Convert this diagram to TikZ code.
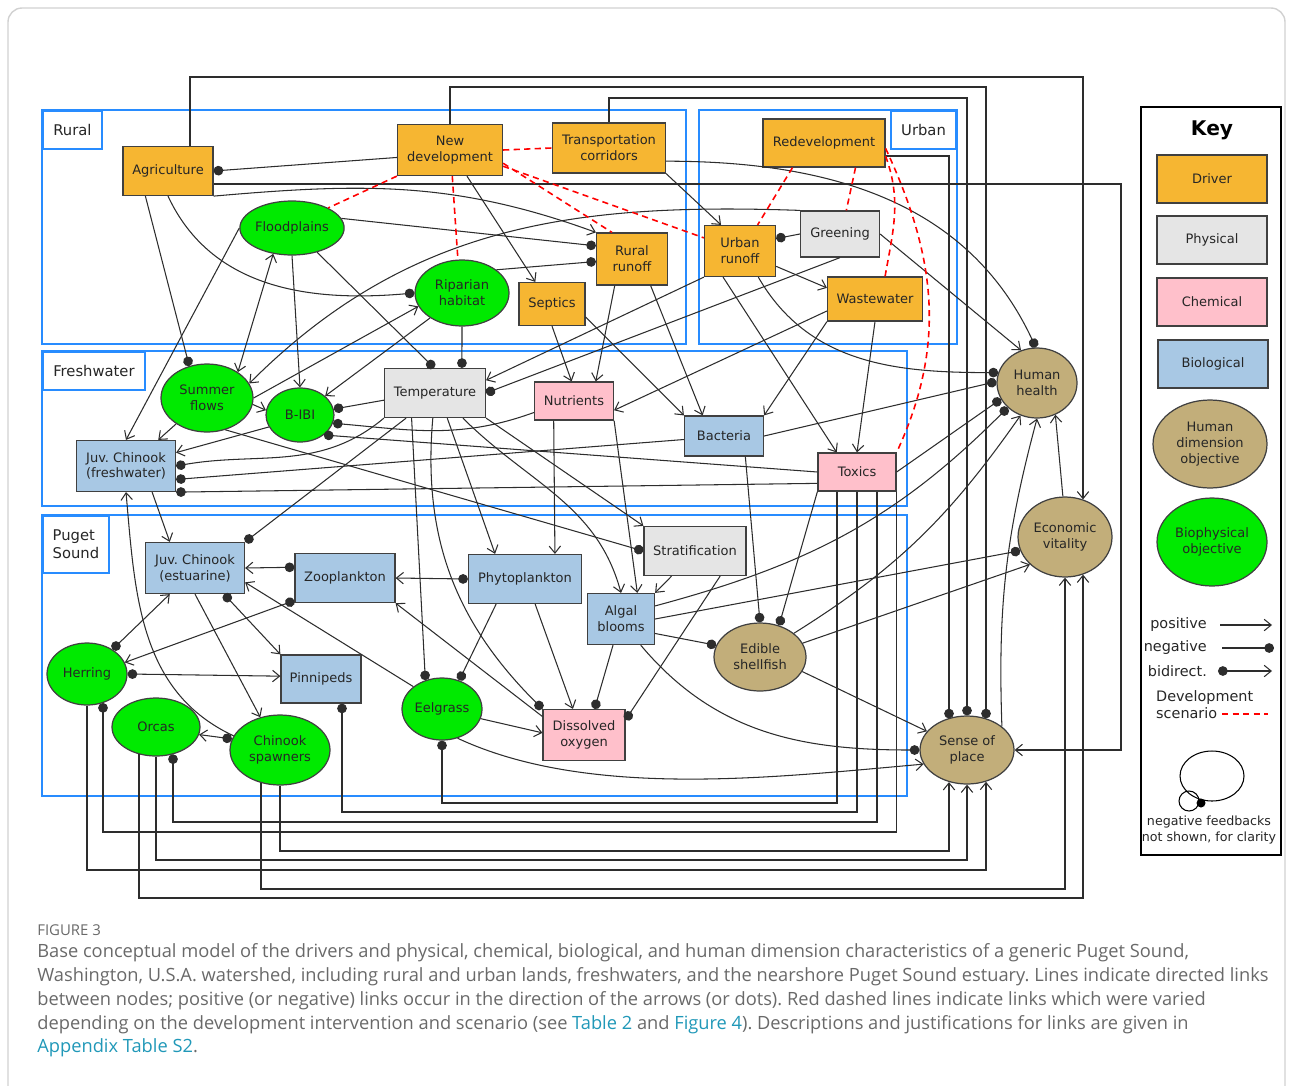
\documentclass[tikz,border=0pt]{standalone}
\usepackage{fontspec}
\setmainfont{DejaVu Sans}
\newfontfamily\capfont{Open Sans}
\usetikzlibrary{arrows.meta,shapes.geometric,calc}
\frenchspacing

\definecolor{drivercol}{RGB}{246,182,50}
\definecolor{physcol}{RGB}{229,229,229}
\definecolor{chemcol}{RGB}{255,192,203}
\definecolor{biocol}{RGB}{168,200,228}
\definecolor{humancol}{RGB}{194,174,122}
\definecolor{greencol}{RGB}{0,234,0}
\definecolor{zonecol}{RGB}{40,140,255}
\definecolor{linkcol}{RGB}{45,45,45}
\definecolor{capgray}{RGB}{105,105,105}
\definecolor{reflink}{RGB}{32,152,184}

\newcommand{\nodefont}{\fontsize{7.4}{9}\selectfont}

\begin{document}
\begin{tikzpicture}[x=0.02cm,y=0.02cm,
  every node/.style={font=\nodefont,text=black!85},
  cell/.style={rectangle,draw=black!75,line width=0.7pt,align=center,inner sep=1pt},
  driver/.style={cell,fill=drivercol},
  phys/.style={cell,fill=physcol},
  chem/.style={cell,fill=chemcol},
  bio/.style={cell,fill=biocol},
  oval/.style={ellipse,draw=black!75,line width=0.7pt,align=center,inner sep=0pt},
  human/.style={oval,fill=humancol},
  biophys/.style={oval,fill=greencol},
  zone/.style={draw=zonecol,line width=1.1pt},
  zonetag/.style={zone,fill=white,font=\fontsize{8.4}{10}\selectfont,align=left,inner sep=0pt},
  conn/.style={draw=linkcol,line width=0.6pt},
  posarr/.style={conn,-{Straight Barb[length=4pt,width=6.5pt]}},
  negdot/.style={conn,-{Circle[length=5.5pt]}},
  bidir/.style={conn,{Circle[length=5.5pt]}-{Straight Barb[length=4pt,width=6.5pt]}},
  twoway/.style={conn,{Straight Barb[length=4pt,width=6.5pt]}-{Straight Barb[length=4pt,width=6.5pt]}},
  devline/.style={draw=red,line width=0.9pt,dash pattern=on 3.5pt off 2.5pt},
]
\useasboundingbox (0,0) rectangle (1293,-1085);
\draw[black!18,line width=0.8pt,rounded corners=8pt] (8,-8) rectangle (1285,-1110);

% zones
\draw[zone] (42,-110) rectangle (686,-344);
\draw[zone] (699,-110) rectangle (957,-344);
\draw[zone] (42,-351) rectangle (907,-506);
\draw[zone] (42,-515) rectangle (907,-796);
\node at (42,-110) [zonetag,anchor=north west,minimum width=1.18cm,minimum height=0.76cm] (ruraltag) {Rural};
\node at (957,-110) [zonetag,anchor=north east,minimum width=1.3cm,minimum height=0.76cm] (urbantag) {Urban};
\node at (42,-351) [zonetag,anchor=north west,minimum width=2.04cm,minimum height=0.76cm] (freshtag) {Freshwater};
\node at (42,-515) [zonetag,anchor=north west,minimum width=1.32cm,minimum height=1.14cm] (pugettag) {Puget\\Sound};

% drivers and rural / urban nodes
\node at (168,-171) [driver,minimum width=1.8cm,minimum height=0.98cm] (agri) {Agriculture};
\node at (450,-150) [driver,minimum width=2.1cm,minimum height=1.02cm] (newdev) {New\\development};
\node at (609,-148) [driver,minimum width=2.26cm,minimum height=1.0cm] (trans) {Transportation\\corridors};
\node at (824,-143) [driver,minimum width=2.44cm,minimum height=0.96cm] (redev) {Redevelopment};
\node at (292,-228) [biophys,minimum width=2.08cm,minimum height=1.08cm] (flood) {Floodplains};
\node at (462,-293) [biophys,minimum width=1.88cm,minimum height=1.32cm] (ripar) {Riparian\\habitat};
\node at (632,-259) [driver,minimum width=1.42cm,minimum height=1.04cm] (rrun) {Rural\\runoff};
\node at (552,-304) [driver,minimum width=1.32cm,minimum height=0.86cm] (septics) {Septics};
\node at (740,-251) [driver,minimum width=1.42cm,minimum height=1.02cm] (urun) {Urban\\runoff};
\node at (840,-234) [phys,minimum width=1.58cm,minimum height=0.92cm] (green) {Greening};
\node at (875,-299) [driver,minimum width=1.9cm,minimum height=0.88cm] (waste) {Wastewater};

% freshwater
\node at (207,-398) [biophys,minimum width=1.84cm,minimum height=1.36cm] (summer) {Summer\\flows};
\node at (300,-415) [biophys,minimum width=1.36cm,minimum height=1.08cm] (bibi) {B-IBI};
\node at (435,-393) [phys,minimum width=2.02cm,minimum height=0.98cm] (temp) {Temperature};
\node at (574,-401) [chem,minimum width=1.58cm,minimum height=0.76cm] (nutr) {Nutrients};
\node at (724,-436) [bio,minimum width=1.58cm,minimum height=0.8cm] (bact) {Bacteria};
\node at (857,-472) [chem,minimum width=1.56cm,minimum height=0.76cm] (toxics) {Toxics};
\node at (126,-466) [bio,minimum width=1.98cm,minimum height=1.02cm] (jcf) {Juv. Chinook\\(freshwater)};

% puget sound
\node at (195,-568) [bio,minimum width=1.98cm,minimum height=1.02cm] (jce) {Juv. Chinook\\(estuarine)};
\node at (345,-578) [bio,minimum width=2.0cm,minimum height=0.98cm] (zoo) {Zooplankton};
\node at (525,-579) [bio,minimum width=2.26cm,minimum height=0.98cm] (phyto) {Phytoplankton};
\node at (695,-551) [phys,minimum width=2.04cm,minimum height=0.98cm] (strat) {Stratification};
\node at (621,-619) [bio,minimum width=1.34cm,minimum height=1.02cm] (algal) {Algal\\blooms};
\node at (760,-657) [human,minimum width=1.84cm,minimum height=1.36cm] (shell) {Edible\\shellfish};
\node at (87,-674) [biophys,minimum width=1.6cm,minimum height=1.24cm] (herring) {Herring};
\node at (321,-679) [bio,minimum width=1.6cm,minimum height=0.96cm] (pinni) {Pinnipeds};
\node at (442,-709) [biophys,minimum width=1.6cm,minimum height=1.24cm] (eel) {Eelgrass};
\node at (584,-735) [chem,minimum width=1.64cm,minimum height=1.02cm] (dox) {Dissolved\\oxygen};
\node at (156,-727) [biophys,minimum width=1.76cm,minimum height=1.16cm] (orcas) {Orcas};
\node at (280,-750) [biophys,minimum width=2.0cm,minimum height=1.4cm] (spawn) {Chinook\\spawners};

% human dimension
\node at (1037,-383) [human,minimum width=1.6cm,minimum height=1.4cm] (health) {Human\\health};
\node at (1065,-537) [human,minimum width=1.88cm,minimum height=1.6cm] (econ) {Economic\\vitality};
\node at (967,-750) [human,minimum width=1.88cm,minimum height=1.36cm] (sense) {Sense of\\place};

% long routed links
\draw[posarr] ($(agri.north)+(22,0)$) |- (1083,-77) -- ($(econ.north)+(18,-3)$);
\draw[negdot] (newdev.north) |- (986,-87) -- ($(sense.north)+(19,-3)$);
\draw[negdot] (trans.north) |- (967,-98) -- (sense.north);
\draw[negdot] ($(redev.east)+(0,-13)$) -| ($(sense.north)+(-18,-3)$);
\draw[posarr] ($(agri.east)+(0,-13)$) -| (1121,-750) -- (sense.east);
\draw[negdot] ($(toxics.south)+(-20,0)$) |- (442,-803) -- (eel.south);
\draw[negdot] (toxics.south) |- (342,-812) -- ($(pinni.south)+(21,0)$);
\draw[negdot] ($(toxics.south)+(20,0)$) |- (173,-822) -- ($(orcas.south)+(17,2.3)$);
\draw[negdot] (toxics.south east) |- (103,-832) -- ($(herring.south)+(16,2.6)$);
\draw[posarr] (spawn.south) |- (949,-851) -- ($(sense.south)+(-18,2.5)$);
\draw[posarr] (orcas.south) |- (967,-860) -- (sense.south);
\draw[posarr] (herring.south) |- (986,-870) -- ($(sense.south)+(19,2.8)$);
\draw[posarr] ($(spawn.south)+(-19,2.6)$) |- (1065,-889) -- (econ.south);
\draw[posarr] ($(orcas.south)+(-17,2.3)$) |- (1083,-898) -- ($(econ.south)+(18,3)$);

% rural and urban links
\draw[negdot] (newdev.188) -- (agri.east);
\draw[posarr] (newdev.-57) -- (septics.127);
\draw[posarr] (agri.south east) to[out=5,in=160] (rrun.north west);
\draw[negdot] (flood.11) -- (rrun.160);
\draw[negdot] (ripar.34) -- (rrun.184);
\draw[negdot] (agri.south) to[out=-65,in=185] (ripar.west);
\draw[posarr] (trans.south east) -- (urun.126);
\draw[negdot] (trans.-13) to[out=0,in=115] (health.92);
\draw[posarr] (green.east) -- (health.116);
\draw[negdot] (green.west) -- (urun.19);
\draw[posarr] (green.north west) to[out=178,in=45] (summer.19);
\draw[posarr] (urun.-23) -- (waste.167);
\draw[posarr] (urun.-123) -- (toxics.136);
\draw[negdot] (urun.-55) to[out=-60,in=180] (health.165);
\draw[posarr] (urun.south west) -- (temp.14);
\draw[negdot] (green.south) -- (temp.east);
\draw[posarr] (waste.-166) -- (nutr.-13);
\draw[posarr] (waste.south west) -- (bact.north east);
\draw[posarr] (waste.south) -- (toxics.north);
\draw[posarr] (rrun.-55) -- (bact.136);
\draw[posarr] (septics.-21) -- (bact.north west);
\draw[posarr] (septics.south) -- (nutr.97);
\draw[posarr] (rrun.-123) -- (nutr.42);
\draw[negdot] (ripar.south) -- (temp.43);
\draw[negdot] (flood.-44) -- (temp.92);
\draw[posarr] (flood.west) -- (jcf.north);
\draw[negdot] (agri.-132) -- (summer.119);
\draw[twoway] (flood.-126) -- (summer.40);
\draw[posarr] (flood.south) -- (bibi.north);

% freshwater links
\draw[posarr] (summer.east) -- (ripar.-163);
\draw[posarr] (ripar.-142) -- (bibi.37);
\draw[posarr] (summer.-8) -- (bibi.172);
\draw[negdot] (temp.-172) -- (bibi.10);
\draw[negdot] (nutr.-164) to[out=200,in=-5] (bibi.-14);
\draw[negdot] (toxics.west) -- (bibi.-40);
\draw[posarr] (bibi.-159) -- (jcf.15);
\draw[posarr] (summer.-140) -- (jcf.39);
\draw[negdot] (temp.south west) to[out=-140,in=10] (jcf.east);
\draw[negdot] (bact.-175) -- (jcf.-15);
\draw[negdot] (toxics.-164) -- (jcf.south east);
\draw[posarr] (jcf.-45) -- (jce.134);
\draw[posarr] (spawn.163) to[out=155,in=-85] (jcf.south);
\draw[negdot] (summer.-60) -- (strat.west);
\draw[negdot] (temp.-139) -- (jce.north east);
\draw[negdot] (temp.-133) -- (eel.120);
\draw[negdot] (temp.-95) to[out=-95,in=135] (dox.north west);
\draw[posarr] (temp.-64) -- (phyto.140);
\draw[posarr] (temp.-42) to[out=-45,in=105] (algal.north);
\draw[posarr] (temp.south east) -- (strat.north west);
\draw[posarr] (nutr.-136) -- (phyto.40);
\draw[posarr] (nutr.south east) -- (algal.58);
\draw[negdot] (bact.-44) -- (shell.north);
\draw[negdot] (bact.east) -- (health.178);
\draw[negdot] (toxics.south west) -- (shell.59);
\draw[negdot] (toxics.east) -- (health.-156);

% puget sound links
\draw[posarr] (strat.-133) -- (algal.north east);
\draw[negdot] (strat.-45) -- (dox.20);
\draw[bidir] (zoo.168) -- (jce.east);
\draw[bidir] (phyto.west) -- (zoo.east);
\draw[bidir] (zoo.-156) -- (herring.17);
\draw[bidir] (herring.44) -- (jce.-134);
\draw[bidir] (jce.-42) -- (pinni.north west);
\draw[posarr] (jce.south) -- (spawn.121);
\draw[bidir] (herring.east) -- (pinni.176);
\draw[bidir] (spawn.167) -- (orcas.-10);
\draw[posarr] (eel.142) -- (jce.-16);
\draw[negdot] (phyto.-139) -- (eel.59);
\draw[posarr] (eel.-14) -- (dox.177);
\draw[posarr] (eel.-62) to[out=-25,in=185,looseness=0.8] (sense.-162);
\draw[posarr] (dox.156) -- (zoo.south east);
\draw[posarr] (phyto.-68) -- (dox.113);
\draw[negdot] (algal.-107) -- (dox.68);
\draw[negdot] (algal.-23) -- (shell.165);
\draw[negdot] (algal.-53) to[out=-50,in=180] (sense.west);
\draw[negdot] (algal.21) to[out=15,in=-135] (health.-140);
\draw[negdot] (algal.east) -- (econ.-163);
\draw[posarr] (shell.35) to[out=32,in=-125] (health.-117);
\draw[posarr] (shell.18) -- (econ.-142);
\draw[posarr] (shell.-19) -- (sense.155);
\draw[posarr] (sense.34) to[out=92,in=-105] (health.south);
\draw[posarr] (econ.93) -- (health.-60);

% development scenario links
\draw[devline] (newdev.south west) -- (flood.29);
\draw[devline] (newdev.-85) -- (ripar.97);
\draw[devline] (newdev.east) -- (trans.west);
\draw[devline] (newdev.-14) -- (rrun.127);
\draw[devline] (newdev.-17) -- (urun.160);
\draw[devline] (redev.-142) -- (urun.56);
\draw[devline] (redev.-38) -- (green.75);
\draw[devline] (redev.-12) to[out=-70,in=80] (waste.66);
\draw[devline] (redev.-5) to[out=-65,in=65] (toxics.north east);

% key
\draw[line width=1.3pt] (1141,-107) rectangle (1281,-855);
\node at (1212,-130) [font=\fontsize{11.5}{13}\selectfont\bfseries,text=black] (keytitle) {Key};
\node at (1212,-179) [driver,minimum width=2.2cm,minimum height=0.96cm] (keydrv) {Driver};
\node at (1212,-240) [phys,minimum width=2.2cm,minimum height=0.96cm] (keyphys) {Physical};
\node at (1212,-302) [chem,minimum width=2.2cm,minimum height=0.96cm] (keychem) {Chemical};
\node at (1213,-364) [bio,minimum width=2.2cm,minimum height=0.96cm] (keybio) {Biological};
\node at (1210,-444) [human,minimum width=2.28cm,minimum height=1.76cm] (keyhum) {Human\\dimension\\objective};
\node at (1212,-542) [biophys,minimum width=2.2cm,minimum height=1.76cm] (keybioph) {Biophysical\\objective};
\node at (1213,-625) [anchor=east,font=\fontsize{8.2}{10}\selectfont] (keypos) {positive};
\node at (1213,-648) [anchor=east,font=\fontsize{8.2}{10}\selectfont] (keyneg) {negative};
\node at (1213,-671) [anchor=east,font=\fontsize{8.2}{10}\selectfont] (keybi) {bidirect.};
\node at (1150,-705) [anchor=west,align=left,font=\fontsize{8.2}{9.6}\selectfont] (keydev) {Development\\scenario};
\coordinate (pa) at (1220,-625); \coordinate (pb) at (1272,-625);
\coordinate (na) at (1222,-648); \coordinate (nb) at (1274,-648);
\coordinate (ba) at (1218,-671); \coordinate (bb) at (1272,-671);
\coordinate (da) at (1222,-714); \coordinate (db) at (1268,-714);
\draw[posarr] (pa) -- (pb);
\draw[negdot] (na) -- (nb);
\draw[bidir] (ba) -- (bb);
\draw[devline] (da) -- (db);
\draw[line width=0.6pt] (1212,-776) ellipse [x radius=0.64cm, y radius=0.5cm];
\draw[line width=0.6pt] (1189,-801) circle [radius=0.2cm];
\fill (1201,-803) circle [radius=0.09cm];
\node at (1209,-830) [align=center,font=\fontsize{7.2}{8.6}\selectfont] (keynote) {negative feedbacks\\not shown, for clarity};

% caption
\node at (37,-930) [anchor=west,inner sep=0pt,font=\capfont\fontsize{8.5}{10}\selectfont,text=capgray] (figlabel) {FIGURE 3};
\node at (37,-943) [anchor=north west,align=left,inner sep=0pt,font=\capfont\fontsize{10.4}{13.6}\selectfont,text=capgray] (caption) {Base conceptual model of the drivers and physical, chemical, biological, and human dimension characteristics of a generic Puget Sound,\\
Washington, U.S.A. watershed, including rural and urban lands, freshwaters, and the nearshore Puget Sound estuary. Lines indicate directed links\\
between nodes; positive (or negative) links occur in the direction of the arrows (or dots). Red dashed lines indicate links which were varied\\
depending on the development intervention and scenario (see \textcolor{reflink}{Table 2} and \textcolor{reflink}{Figure 4}). Descriptions and justifications for links are given in\\
\textcolor{reflink}{Appendix Table S2}.};
\end{tikzpicture}
\end{document}
